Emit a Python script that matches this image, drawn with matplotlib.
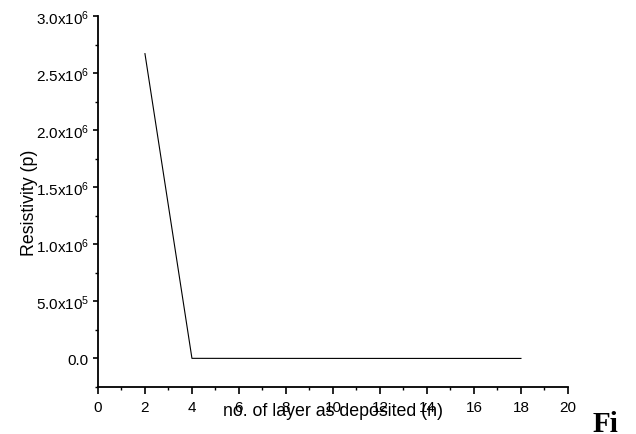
import matplotlib
matplotlib.use("Agg")
import matplotlib.pyplot as plt
from matplotlib.ticker import FixedLocator, MultipleLocator

plt.rcParams["font.family"] = ["Liberation Sans", "DejaVu Sans"]
plt.rcParams["mathtext.fontset"] = "custom"
plt.rcParams["mathtext.rm"] = "Liberation Sans"
plt.rcParams["mathtext.it"] = "Liberation Sans:italic"

# data
layers = [2, 4, 6, 8, 10, 12, 14, 16, 18]
resistivity = [2.67e6, 1.2e3, 900, 700, 600, 500, 450, 400, 350]

y_ticks = [0.0, 5.0e5, 1.0e6, 1.5e6, 2.0e6, 2.5e6, 3.0e6]
y_tick_labels = ["0.0", "5.0x10$^{5}$", "1.0x10$^{6}$", "1.5x10$^{6}$",
                 "2.0x10$^{6}$", "2.5x10$^{6}$", "3.0x10$^{6}$"]
x_ticks = list(range(0, 21, 2))

fig = plt.figure(figsize=(6.36, 4.35), dpi=100)
ax = fig.add_axes([0.154, 0.108, 0.739, 0.853])

ax.plot(layers, resistivity, color="black", linewidth=0.8)

ax.set_xlim(0, 20)
ax.set_ylim(-2.5e5, 3.0e6)
ax.xaxis.set_major_locator(FixedLocator(x_ticks))
ax.xaxis.set_minor_locator(MultipleLocator(1))
ax.yaxis.set_major_locator(FixedLocator(y_ticks))
ax.set_yticklabels(y_tick_labels)
ax.yaxis.set_minor_locator(MultipleLocator(2.5e5))

for side in ("top", "right"):
    ax.spines[side].set_visible(False)
for side in ("left", "bottom"):
    ax.spines[side].set_linewidth(1.3)

ax.tick_params(axis="x", which="major", direction="out", length=5, width=1.2,
               labelsize=11, pad=4)
ax.tick_params(axis="x", which="minor", direction="out", length=2.5, width=1.0)
ax.tick_params(axis="y", which="major", direction="out", length=3.5, width=1.2,
               labelsize=11, pad=3)
ax.tick_params(axis="y", which="minor", direction="out", length=2, width=1.0)

ax.set_xlabel("no. of layer as deposited (n)", fontsize=12.8, labelpad=-8)
ax.set_ylabel("Resistivity (p)", fontsize=12.8, labelpad=-2)

fig.text(0.932, 0.008, "Fi", fontsize=21, fontweight="bold",
         family=["Liberation Serif", "DejaVu Serif"])

fig.savefig("out.png", dpi=100)
